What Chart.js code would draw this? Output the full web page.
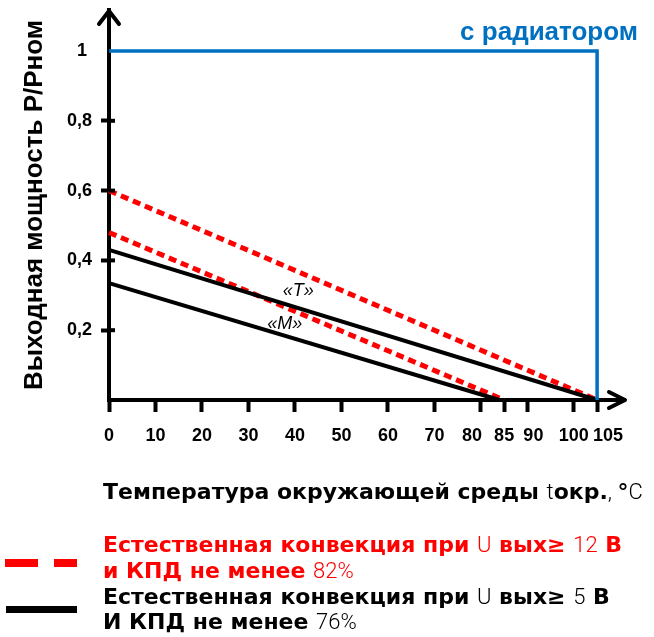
<!DOCTYPE html>
<html>
<head>
<meta charset="utf-8">
<script src="https://cdn.jsdelivr.net/npm/chart.js@4.4.1/dist/chart.umd.min.js"></script>
<style>
  html, body { margin: 0; padding: 0; background: #ffffff; }
  #wrap { width: 654px; height: 637px; position: relative; }
</style>
</head>
<body>
<div id="wrap"><canvas id="c" width="654" height="637"></canvas></div>
<script>
// ---- data ----
const xTickValues = [0, 10, 20, 30, 40, 50, 60, 70, 80, 85, 90, 100, 105];
const yTickValues = [0.2, 0.4, 0.6, 0.8, 1];

const radiatorX = [0, 105, 105];
const radiatorY = [1, 1, 0];

const convT12X = [0, 105];
const convT12Y = [0.6, 0];
const convM12X = [0, 85];
const convM12Y = [0.48, 0];

const convT5X = [0, 105];
const convT5Y = [0.43, 0];
const convM5X = [0, 84];
const convM5Y = [0.335, 0];

const yTitle = 'Выходная мощность Р/Рном';
const radiatorLabel = 'с радиатором';
const labelT = '«T»';
const labelM = '«M»';

// ---- helpers ----
const pts = (xs, ys) => xs.map((x, i) => ({ x: x, y: ys[i] }));
const RED = '#ff0000';
const BLUE = '#0070c0';
const BOLD = 'bold 22px "DejaVu Sans", Verdana, sans-serif';
const LIGHT = '300 22px Roboto, "Liberation Sans", sans-serif';

const xTitleRuns = [
  ['Температура окружающей среды ', BOLD], ['t', LIGHT], ['окр.', BOLD], [', ', LIGHT], ['°', BOLD], ['C', LIGHT]
];
const legendRed1 = [['Естественная конвекция при ', BOLD], ['U', LIGHT], [' вых≥ ', BOLD], ['12', LIGHT], [' В', BOLD]];
const legendRed2 = [['и КПД не менее ', BOLD], ['82%', LIGHT]];
const legendBlack1 = [['Естественная конвекция при ', BOLD], ['U', LIGHT], [' вых≥ ', BOLD], ['5', LIGHT], [' В', BOLD]];
const legendBlack2 = [['И КПД не менее ', BOLD], ['76%', LIGHT]];

function drawRuns(ctx, x, y, runs, color) {
  ctx.fillStyle = color;
  ctx.textAlign = 'left';
  ctx.textBaseline = 'middle';
  let cx = x;
  runs.forEach(([t, f]) => {
    ctx.font = f;
    ctx.fillText(t, cx, y);
    cx += ctx.measureText(t).width;
  });
}

const extras = {
  id: 'extras',
  afterDraw(chart) {
    const ctx = chart.ctx;
    const xs = chart.scales.x, ys = chart.scales.y;
    const ax = xs.getPixelForValue(0);
    const ay = ys.getPixelForValue(0);
    const top = chart.chartArea.top, right = chart.chartArea.right;
    ctx.save();
    ctx.strokeStyle = '#000';
    ctx.lineWidth = 4;
    ctx.lineCap = 'round';
    ctx.lineJoin = 'round';
    // arrow heads
    ctx.beginPath();
    ctx.moveTo(ax - 10, top + 14); ctx.lineTo(ax, top + 1); ctx.lineTo(ax + 10, top + 14);
    ctx.stroke();
    ctx.beginPath();
    ctx.moveTo(right - 16, ay - 8); ctx.lineTo(right, ay); ctx.lineTo(right - 16, ay + 8);
    ctx.stroke();
    // inner part of y ticks
    ctx.lineCap = 'butt';
    yTickValues.forEach(v => {
      if (v < 1) {
        const py = ys.getPixelForValue(v);
        ctx.beginPath(); ctx.moveTo(ax, py); ctx.lineTo(ax + 6, py); ctx.stroke();
      }
    });
    // series labels
    ctx.fillStyle = '#000';
    ctx.font = 'italic 18px "Liberation Sans", Arial, sans-serif';
    ctx.textAlign = 'center';
    ctx.textBaseline = 'middle';
    ctx.fillText(labelT, xs.getPixelForValue(40.7), ys.getPixelForValue(0.312));
    ctx.fillText(labelM, xs.getPixelForValue(37.8), ys.getPixelForValue(0.219));
    // radiator label
    ctx.fillStyle = BLUE;
    ctx.font = 'bold 26px "Liberation Sans", Arial, sans-serif';
    ctx.textAlign = 'right';
    ctx.textBaseline = 'alphabetic';
    ctx.fillText(radiatorLabel, 638, 40);
    // x axis title
    drawRuns(ctx, 103, 493, xTitleRuns, '#000');
    // legend
    ctx.lineCap = 'butt';
    ctx.strokeStyle = RED;
    ctx.lineWidth = 8;
    ctx.setLineDash([33, 16]);
    ctx.beginPath(); ctx.moveTo(5, 563); ctx.lineTo(77, 563); ctx.stroke();
    ctx.setLineDash([]);
    ctx.strokeStyle = '#000';
    ctx.lineWidth = 7;
    ctx.beginPath(); ctx.moveTo(6, 609.5); ctx.lineTo(77, 609.5); ctx.stroke();
    drawRuns(ctx, 103, 546, legendRed1, RED);
    drawRuns(ctx, 103, 572, legendRed2, RED);
    drawRuns(ctx, 103, 598, legendBlack1, '#000');
    drawRuns(ctx, 103, 623, legendBlack2, '#000');
    ctx.restore();
  }
};

const xLabel = (v) => {
  if (v === 80) return '80\u2003';
  if (v === 90) return '\u2002\u200690';
  if (v === 105) return '\u2003\u2009105';
  return String(v);
};

new Chart(document.getElementById('c'), {
  type: 'line',
  data: {
    datasets: [
      { label: 'с радиатором', data: pts(radiatorX, radiatorY), borderColor: BLUE, borderWidth: 3.5, borderJoinStyle: 'miter' },
      { label: 'U≥5 В «T»', data: pts(convT5X, convT5Y), borderColor: '#000', borderWidth: 4 },
      { label: 'U≥5 В «M»', data: pts(convM5X, convM5Y), borderColor: '#000', borderWidth: 4 },
      { label: 'U≥12 В «T»', data: pts(convT12X, convT12Y), borderColor: RED, borderWidth: 5, borderDash: [8, 5] },
      { label: 'U≥12 В «M»', data: pts(convM12X, convM12Y), borderColor: RED, borderWidth: 5, borderDash: [8, 5] }
    ]
  },
  options: {
    responsive: false,
    animation: false,
    devicePixelRatio: 1,
    layout: { padding: { top: 10, right: 29, left: 0, bottom: 0 } },
    elements: { point: { radius: 0 }, line: { tension: 0, fill: false } },
    datasets: { line: { clip: false } },
    plugins: { legend: { display: false }, tooltip: { enabled: false } },
    scales: {
      x: {
        type: 'linear', min: 0, max: 111,
        afterBuildTicks: (s) => { s.ticks = xTickValues.map(v => ({ value: v })); },
        afterFit: (s) => { s.height = 237; s.paddingLeft = 0; s.paddingRight = 0; },
        grid: { drawOnChartArea: false, drawTicks: true, tickLength: 12, tickWidth: 4, tickColor: '#000' },
        border: { display: true, color: '#000', width: 4 },
        ticks: {
          autoSkip: false, maxRotation: 0, minRotation: 0, padding: 13, color: '#000',
          font: { family: '"Liberation Sans", Arial, sans-serif', weight: 'bold', size: 18 },
          callback: (v) => xLabel(v)
        }
      },
      y: {
        type: 'linear', min: 0, max: 1.1175,
        afterBuildTicks: (s) => { s.ticks = yTickValues.map(v => ({ value: v })); },
        afterFit: (s) => { s.width = 109; s.paddingTop = 0; s.paddingBottom = 0; },
        grid: {
          drawOnChartArea: false, drawTicks: true, tickLength: 8, tickWidth: 4,
          tickColor: (c) => (c.tick && c.tick.value === 1) ? 'rgba(0,0,0,0)' : '#000'
        },
        border: { display: true, color: '#000', width: 4 },
        ticks: {
          padding: 9, color: '#000',
          font: { family: '"Liberation Sans", Arial, sans-serif', weight: 'bold', size: 18 },
          callback: (v) => v === 1 ? '1 ' : String(v).replace('.', ',')
        },
        title: {
          display: true, text: yTitle, color: '#000',
          font: { family: '"Liberation Sans", Arial, sans-serif', weight: 'bold', size: 26 },
          padding: { top: 19, bottom: 0 }
        }
      }
    }
  },
  plugins: [extras]
});
</script>
</body>
</html>
